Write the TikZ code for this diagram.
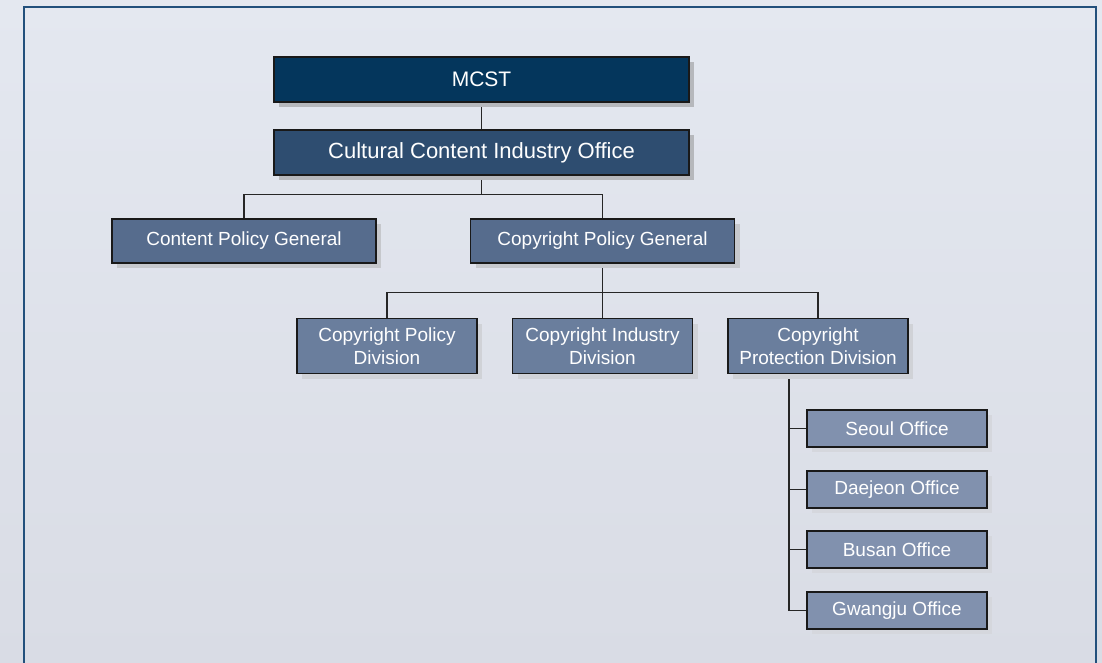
\documentclass[tikz,border=0pt]{standalone}
\usepackage{fontspec}
\setmainfont{Liberation Sans}
\usetikzlibrary{shadows}

\definecolor{bgtop}{HTML}{E4E8F0}
\definecolor{bgbot}{HTML}{D9DCE5}
\definecolor{framec}{HTML}{22507C}
\definecolor{lvA}{HTML}{04365C}
\definecolor{lvB}{HTML}{2E4D70}
\definecolor{lvC}{HTML}{566C8D}
\definecolor{lvD}{HTML}{6A7E9D}
\definecolor{lvE}{HTML}{8191AE}
\definecolor{shA}{HTML}{B6B8BC}
\definecolor{shB}{HTML}{C6C8CC}
\definecolor{shC}{HTML}{D0D2D7}
\definecolor{shD}{HTML}{D5D7DD}
\definecolor{linkc}{HTML}{262626}

\pgfdeclarelayer{backdrop}
\pgfdeclarelayer{links}
\pgfsetlayers{backdrop,links,main}

\tikzset{
  unit/.style={draw=black!90, line width=1.4pt, text=white, inner sep=0pt,
    align=center, font=\fontsize{19}{23}\selectfont},
  topunit/.style={unit, fill=lvA, minimum width=415pt, minimum height=45pt,
    font=\fontsize{21}{25}\selectfont,
    drop shadow={shadow xshift=5pt, shadow yshift=-5pt, fill=shA, opacity=1}},
  officeunit/.style={unit, fill=lvB, minimum width=415pt, minimum height=45pt,
    font=\fontsize{22}{26}\selectfont,
    drop shadow={shadow xshift=5pt, shadow yshift=-5pt, fill=shA, opacity=1}},
  genunit/.style={unit, fill=lvC, minimum width=264pt, minimum height=44pt,
    drop shadow={shadow xshift=5pt, shadow yshift=-5pt, fill=shB, opacity=1}},
  divunit/.style={unit, fill=lvD, minimum width=180pt, minimum height=55pt,
    drop shadow={shadow xshift=5pt, shadow yshift=-5pt, fill=shC, opacity=1}},
  branchunit/.style={unit, fill=lvE, minimum width=180pt, minimum height=37pt,
    drop shadow={shadow xshift=5pt, shadow yshift=-5pt, fill=shD, opacity=1}},
  link/.style={draw=linkc, line width=1.5pt}
}

\begin{document}
\begin{tikzpicture}[x=1pt, y=-1pt]
  \useasboundingbox (0,0) rectangle (1102,663);

  % page backdrop and frame
  \begin{pgfonlayer}{backdrop}
    \shade[top color=bgtop, bottom color=bgbot] (0,0) rectangle (1102,663);
    \draw[framec, line width=2pt] (24,665) -- (24,7) -- (1096,7) -- (1096,665);
  \end{pgfonlayer}

  % units
  \node[topunit]    (mcst) at (481.5,79.5)  {MCST};
  \node[officeunit] (ccio) at (481.5,152.5) {Cultural Content Industry Office};

  \node[genunit] (cpgen) at (244,241)   {Content Policy General};
  \node[genunit] (crgen) at (602.5,241) {Copyright Policy General};

  \node[divunit] (crpol) at (387,346)   {Copyright Policy\\Division};
  \node[divunit] (crind) at (602.5,346) {Copyright Industry\\Division};
  \node[divunit] (crpro) at (818,346)   {Copyright\\Protection Division};

  \node[branchunit] (seoul)   at (897,428.5) {Seoul Office};
  \node[branchunit] (daejeon) at (897,489.5) {Daejeon Office};
  \node[branchunit] (busan)   at (897,549.5) {Busan Office};
  \node[branchunit] (gwangju) at (897,610.5) {Gwangju Office};

  % connectors
  \begin{pgfonlayer}{links}
    \draw[link] (mcst.south) -- (ccio.north);

    \path (ccio.south) ++(0,19) coordinate (joinA);
    \draw[link] (ccio.south) -- (joinA);
    \draw[link] (cpgen.north) |- (joinA) -| (crgen.north);

    \path (crgen.south) ++(0,29) coordinate (joinB);
    \draw[link] (crgen.south) -- (crind.north);
    \draw[link] (crpol.north) |- (joinB) -| (crpro.north);

    \coordinate (trunk) at (789,373.5);
    \draw[link] (trunk) |- (gwangju.west);
    \draw[link] (trunk |- seoul.west)   -- (seoul.west);
    \draw[link] (trunk |- daejeon.west) -- (daejeon.west);
    \draw[link] (trunk |- busan.west)   -- (busan.west);
  \end{pgfonlayer}
\end{tikzpicture}
\end{document}
